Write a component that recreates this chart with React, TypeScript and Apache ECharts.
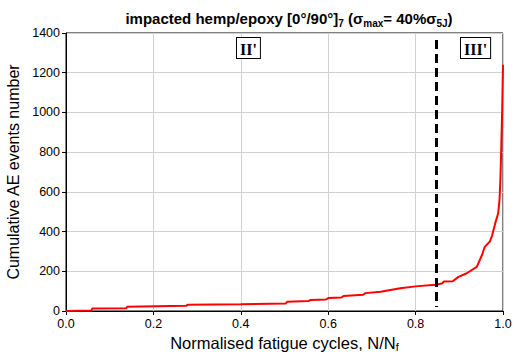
import React, { useEffect, useRef } from "react";
import * as echarts from "echarts";

const cycles = [0, 0.058, 0.06, 0.138, 0.14, 0.275, 0.278, 0.4, 0.503, 0.506, 0.555, 0.56, 0.595, 0.6, 0.63, 0.635, 0.68, 0.685, 0.72, 0.765, 0.8, 0.845, 0.86, 0.865, 0.885, 0.898, 0.917, 0.94, 0.952, 0.958, 0.963, 0.97, 0.975, 0.982, 0.989, 0.992, 0.994, 0.996, 0.998, 1.0];
const events = [0, 2, 12, 14, 21, 26, 31, 34, 38, 46, 50, 56, 58, 65, 68, 75, 82, 90, 97, 115, 124, 132, 138, 148, 150, 172, 190, 222, 282, 322, 334, 350, 380, 440, 492, 560, 660, 820, 1000, 1240];
const boundary = 0.847;
const stageLabels = ["II'", "III'"];

export default function App() {
  const ref = useRef<HTMLDivElement>(null);
  useEffect(() => {
    const chart = echarts.init(ref.current!, null, { renderer: "svg" });
    const font = "Liberation Sans, Arial, sans-serif";
    const boxStyle = {
      fontFamily: "Liberation Serif, Times New Roman, serif",
      fontWeight: "bold",
      fontSize: 16,
      fill: "#000",
      backgroundColor: "#fff",
      borderColor: "#000",
      borderWidth: 1,
      padding: [3, 3, 1, 3],
    };
    chart.setOption({
      animation: false,
      title: {
        text: "{b|impacted hemp/epoxy [0°/90°]}{s|7}{b| (σ}{s|max}{b|= 40%σ}{s|5J}{b|)}",
        left: 284,
        textAlign: "center",
        top: 3,
        textStyle: {
          rich: {
            b: { fontFamily: font, fontWeight: "bold", fontSize: 15, color: "#000", lineHeight: 20 },
            s: { fontFamily: font, fontWeight: "bold", fontSize: 10, color: "#000", verticalAlign: "bottom", lineHeight: 13, padding: [7, 0, 0, 0] },
          },
        },
      },
      grid: { left: 66, right: 11, top: 33, bottom: 44, outerBoundsMode: "none", containLabel: false, show: true, borderColor: "#000", borderWidth: 1, backgroundColor: "transparent" },
      xAxis: {
        type: "value",
        min: 0,
        max: 1,
        interval: 0.2,
        name: "{a|Normalised fatigue cycles, N/N}{s|f}",
        nameLocation: "middle",
        nameGap: 20,
        nameTextStyle: {
          rich: {
            a: { fontFamily: font, fontSize: 16.5, color: "#000" },
            s: { fontFamily: font, fontSize: 11, color: "#000", verticalAlign: "bottom", padding: [8, 0, 0, 0] },
          },
        },
        axisLine: { lineStyle: { color: "#000", width: 1 } },
        axisTick: { show: true, length: 4, lineStyle: { color: "#000" } },
        axisLabel: { color: "#000", fontFamily: font, fontSize: 12.5, margin: 6, formatter: (v: number) => v.toFixed(1) },
        splitLine: { show: true, lineStyle: { color: "#d0d0d0", width: 1 } },
      },
      yAxis: {
        type: "value",
        min: 0,
        max: 1400,
        interval: 200,
        name: "Cumulative AE events number",
        nameLocation: "middle",
        nameGap: 43,
        nameTextStyle: { fontFamily: font, fontSize: 16, color: "#000" },
        axisLine: { show: true, lineStyle: { color: "#000", width: 1 } },
        axisTick: { show: true, length: 4, lineStyle: { color: "#000" } },
        axisLabel: { color: "#000", fontFamily: font, fontSize: 12.5, margin: 6, formatter: (v: number) => String(v) },
        splitLine: { show: true, lineStyle: { color: "#d0d0d0", width: 1 } },
      },
      series: [
        {
          type: "line",
          data: cycles.map((c, i) => [c, events[i]]),
          showSymbol: false,
          lineStyle: { color: "#ff0000", width: 2 },
          z: 3,
          markLine: {
            silent: true,
            symbol: "none",
            label: { show: false },
            lineStyle: { color: "#000", type: [9, 5], width: 3 },
            data: [[{ coord: [boundary, 1365] }, { coord: [boundary, 20] }]],
          },
        },
      ],
      graphic: [
        { type: "text", left: 236, top: 37, style: { ...boxStyle, text: stageLabels[0] }, z: 10 },
        { type: "text", left: 460, top: 37, style: { ...boxStyle, text: stageLabels[1] }, z: 10 },
      ],
    });
    return () => chart.dispose();
  }, []);
  return <div ref={ref} style={{ width: 514, height: 355, position: "absolute", left: 0, top: 0 }} />;
}
